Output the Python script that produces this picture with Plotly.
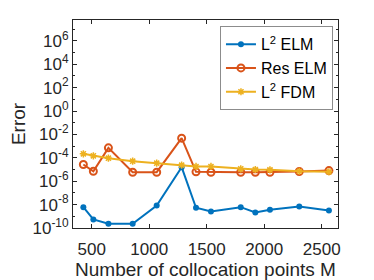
import plotly.graph_objects as go

M = [427, 514, 645, 856, 1065, 1282, 1407, 1537, 1796, 1923, 2050, 2305, 2563]
l2_elm = [10**v for v in [-8.22, -9.27, -9.64, -9.64, -8.08, -4.80, -8.27, -8.59, -8.22, -8.68, -8.44, -8.16, -8.50]]
res_elm = [10**v for v in [-4.57, -5.15, -3.15, -5.23, -5.23, -2.32, -5.20, -5.23, -5.23, -5.23, -5.23, -5.17, -5.09]]
l2_fdm = [10**v for v in [-3.66, -3.83, -4.03, -4.29, -4.46, -4.63, -4.74, -4.74, -4.94, -5.00, -5.03, -5.15, -5.20]]

ytick_exp = [-10, -8, -6, -4, -2, 0, 2, 4, 6]
xticks = [500, 1000, 1500, 2000, 2500]

FONT = "Liberation Sans, Arial, sans-serif"
AX = "#262626"

fig = go.Figure()
fig.add_trace(go.Scatter(x=M, y=l2_elm, mode="lines+markers", name="L<sup>2</sup> ELM",
                         line=dict(color="#0072BD", width=2),
                         marker=dict(symbol="circle", size=6, color="#0072BD")))
fig.add_trace(go.Scatter(x=M, y=res_elm, mode="lines+markers", name="Res ELM",
                         line=dict(color="#D95319", width=2),
                         marker=dict(symbol="circle-open", size=7, color="#D95319", line=dict(width=2))))
fig.add_trace(go.Scatter(x=M, y=l2_fdm, mode="lines+markers", name="L<sup>2</sup> FDM",
                         line=dict(color="#EDB120", width=2),
                         marker=dict(symbol="asterisk-open", size=6, color="#EDB120", line=dict(width=1.5, color="#EDB120"))))

# page body has an 8px default margin, so the figure is sized 366x272
fig.update_layout(
    width=366, height=272,
    margin=dict(l=65, r=36, t=12, b=52),
    paper_bgcolor="white", plot_bgcolor="white",
    font=dict(family=FONT, size=16, color=AX),
    legend=dict(x=0.981, y=0.97, xanchor="right", yanchor="top",
                bgcolor="white", bordercolor="#8c8c8c", borderwidth=1,
                font=dict(size=16, color="black"), tracegroupgap=0,
                itemwidth=30),
    showlegend=True,
)
fig.update_xaxes(
    range=[337, 2642], tickvals=xticks, ticktext=[str(v) for v in xticks],
    ticks="inside", ticklen=4, tickcolor=AX, showline=True, linecolor=AX, linewidth=1,
    mirror="allticks", showgrid=False, zeroline=False, automargin=False,
    tickfont=dict(size=17, color=AX), ticklabelstandoff=6,
    title=dict(text="Number of collocation points M", font=dict(size=19, color=AX), standoff=2),
)
fig.update_yaxes(
    type="log", range=[-10, 7.78],
    tickvals=[10**e for e in ytick_exp],
    ticktext=["10<sup>%d</sup>" % e for e in ytick_exp],
    ticks="inside", ticklen=4, tickcolor=AX, showline=True, linecolor=AX, linewidth=1,
    mirror="allticks", showgrid=False, zeroline=False, automargin=False,
    tickfont=dict(size=17, color=AX),
    minor=dict(ticks="inside", ticklen=2, tickcolor=AX,
               tickvals=[10**e for e in range(-10, 8)], showgrid=False),
    title=dict(text="Error", font=dict(size=19, color=AX), standoff=14),
)

fig.write_html("out.html")
